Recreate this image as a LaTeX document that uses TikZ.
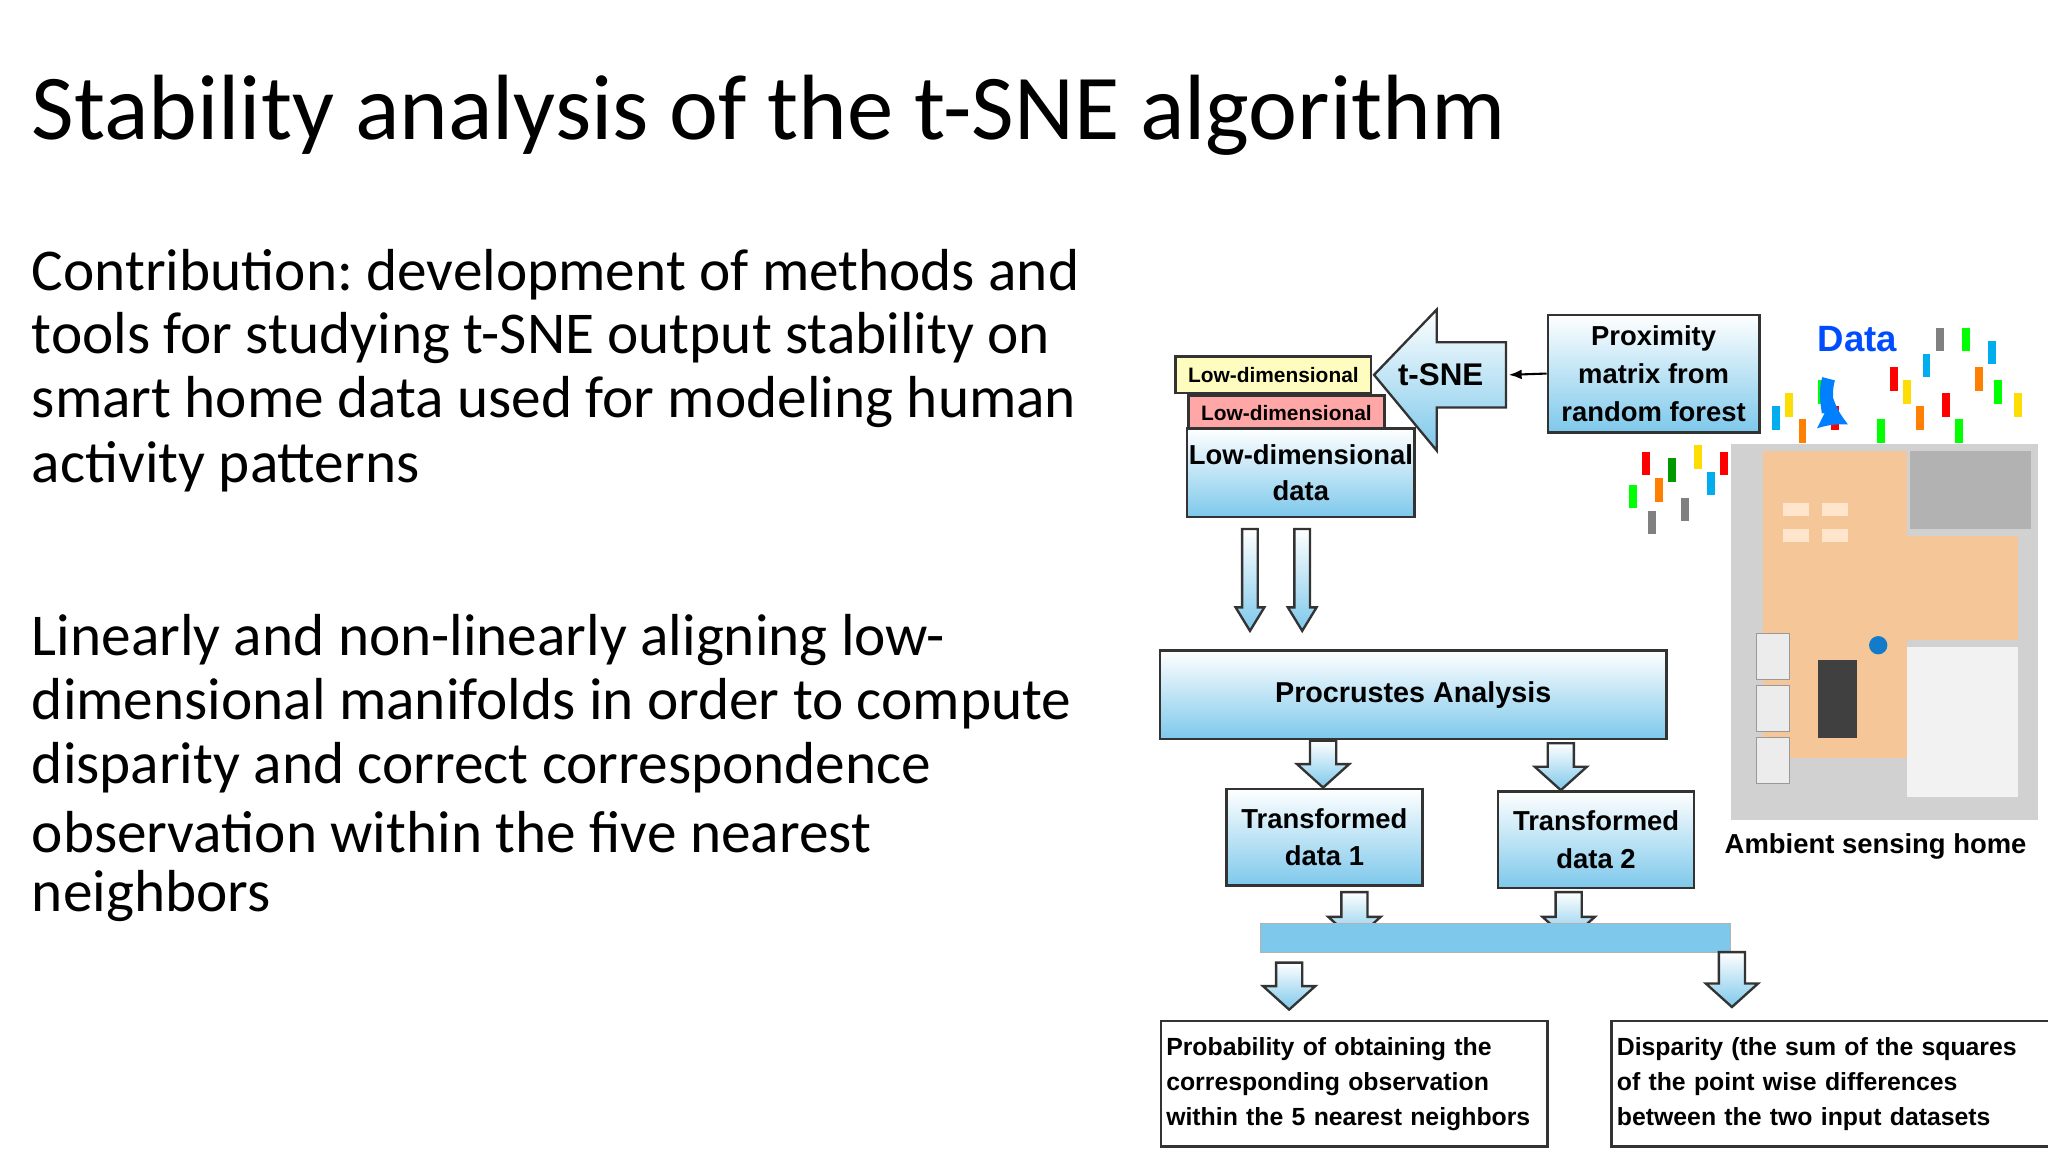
\documentclass[tikz,border=0pt]{standalone}
\usepackage{fontspec}
\setmainfont{Carlito}
\newfontfamily\arial{Liberation Sans}
\usetikzlibrary{shapes.geometric,arrows.meta}
\definecolor{sky}{RGB}{125,200,235}
\tikzset{
 bx/.style={draw=black!80, line width=0.9pt, top color=white, bottom color=sky, font=\arial\bfseries\fontsize{10.5}{12.5}\selectfont, align=center, inner sep=0pt},
 tb/.style={draw=black!80, line width=0.9pt, fill=white, font=\arial\bfseries\fontsize{9.5}{13.5}\selectfont, align=left, anchor=north west, inner sep=2pt},
 ar/.style={draw=black!80, line width=0.9pt, top color=white, bottom color=sky},
 body/.style={anchor=west, font=\fontsize{22.7}{24}\selectfont, inner sep=0pt}
}
% center x, top y, bottom y, shaft half width, head half width, head length
\newcommand\myDarr[6]{\path[ar] (#1-#4,#2) -- (#1+#4,#2) -- (#1+#4,#3-#6) -- (#1+#5,#3-#6) -- (#1,#3) -- (#1-#5,#3-#6) -- (#1-#4,#3-#6) -- cycle;}
\begin{document}
\frenchspacing
\begin{tikzpicture}[x=0.5pt,y=-0.5pt]
\useasboundingbox[fill=white] (0,0) rectangle (1568,882);
\node[anchor=west, font=\fontsize{35.5}{38}\selectfont, inner sep=0pt] (title) at (24,88) {Stability analysis of the t-SNE algorithm};
\node[body] (p1a) at (24,210) {Contribution: development of methods and};
\node[body] (p1b) at (24,259) {tools for studying t-SNE output stability on};
\node[body] (p1c) at (24,308) {smart home data used for modeling human};
\node[body] (p1d) at (24,357) {activity patterns};
\node[body] (p2a) at (24,490) {Linearly and non-linearly aligning low-};
\node[body] (p2b) at (24,539) {dimensional manifolds in order to compute};
\node[body] (p2c) at (24,588) {disparity and correct correspondence};
\node[body] (p2d) at (24,637) {observation within the five nearest};
\node[body] (p2e) at (24,686) {neighbors};

% house
\fill[black!18] (1325,340) rectangle (1560,628);
\fill[brown!40!orange!45] (1350,345) rectangle (1460,580);
\fill[brown!40!orange!45] (1460,410) rectangle (1545,490);
\fill[white!90!gray] (1460,495) rectangle (1545,610);
\fill[black!30] (1462,345) rectangle (1555,405);
\fill[black!75] (1392,505) rectangle (1422,565);
\foreach \yy in {485,525,565} \draw[black!40,fill=white!85!gray] (1345,\yy) rectangle (1370,\yy+35);
\foreach \xx/\yy in {1365/385,1395/385,1365/405,1395/405} \fill[white!80!orange] (\xx,\yy) rectangle (\xx+20,\yy+10);
\fill[cyan!60!blue] (1438,494) circle (7);
\node[font=\arial\bfseries\fontsize{10.5}{12}\selectfont] (home) at (1436,648) {Ambient sensing home};
% data dots
\foreach \xx/\yy/\c in {1260/355/red,1270/375/orange,1280/360/green!60!black,1300/350/yellow!80!orange,1310/370/cyan,1320/355/red,1250/380/green,1290/390/gray,1265/400/gray,1380/330/orange,1395/300/green,1405/320/red,1460/300/yellow!80!orange,1475/280/cyan,1490/310/red,1505/260/green,1515/290/orange,1525/270/cyan,1530/300/green,1545/310/yellow!80!orange,1470/320/orange,1440/330/green,1450/290/red,1500/330/green,1485/260/gray,1360/320/cyan,1370/310/yellow!80!orange}
 \fill[\c] (\xx-3,\yy-9) rectangle (\xx+3,\yy+9);
\node[font=\arial\bfseries\fontsize{14}{16}\selectfont, text=blue!70!cyan] (data) at (1422,260) {Data};
\draw[line width=5pt, blue!50!cyan, -{Latex[length=10pt,width=14pt]}] (1400,290) to[bend right=40] (1415,325);

% stacked low-dim boxes
\node[tb, fill=yellow!25, font=\arial\bfseries\fontsize{8}{9}\selectfont, minimum width=75pt, minimum height=14pt, inner sep=1pt] (ld1) at (899,272) {Low-dimensional};
\node[tb, fill=red!35, font=\arial\bfseries\fontsize{8}{9}\selectfont, minimum width=75pt, minimum height=13pt, inner sep=1pt] (ld2) at (909,302) {Low-dimensional};
\node[bx, minimum width=87pt, minimum height=34pt, font=\arial\bfseries\fontsize{10.5}{14}\selectfont] (ld3) at (996,362) {Low-dimensional\\data};

% t-SNE arrow
\path[ar] (1153,262) -- (1100,262) -- (1100,237) -- (1052,287) -- (1100,345) -- (1100,312) -- (1153,312) -- cycle;
\node[font=\arial\bfseries\fontsize{12}{14}\selectfont] (tsne) at (1103,287) {t-SNE};
\node[bx, minimum width=81pt, minimum height=45pt, font=\arial\bfseries\fontsize{10.5}{14.5}\selectfont] (prox) at (1266,286) {Proximity\\matrix from\\random forest};
\coordinate (tsneR) at (1155,287);
\draw[line width=0.8pt, -{Latex[length=5pt]}] (prox.west) -- (tsneR);

\myDarr{957}{405}{483}{6}{11}{18}
\myDarr{997}{405}{483}{6}{11}{18}
\node[bx, minimum width=194pt, minimum height=34pt, font=\arial\bfseries\fontsize{11}{13}\selectfont] (proc) at (1082,532) {Procrustes Analysis};
\myDarr{1013}{567}{603}{10}{20}{18}
\myDarr{1195}{569}{605}{10}{20}{18}
\node[bx, minimum width=75pt, minimum height=37pt, font=\arial\bfseries\fontsize{10.5}{14.5}\selectfont] (t1) at (1014,641) {Transformed\\data 1};
\node[bx, minimum width=75pt, minimum height=37pt, font=\arial\bfseries\fontsize{10.5}{14.5}\selectfont] (t2) at (1222,643) {Transformed\\data 2};
\myDarr{1037}{683}{720}{10}{20}{18}
\myDarr{1201}{683}{720}{10}{20}{18}
\path[draw=black!30, fill=sky] (965,707) rectangle (1325,729);
\myDarr{987}{737}{773}{10}{20}{18}
\myDarr{1326}{729}{771}{10}{20}{18}
\node[tb, text width=144pt, minimum height=48pt] (b1) at (888,781) {Probability of obtaining the\\corresponding observation\\within the 5 nearest neighbors};
\node[tb, text width=166pt, minimum height=48pt] (b2) at (1233,781) {Disparity (the sum of the squares\\of the point wise differences\\between the two input datasets};
\end{tikzpicture}
\end{document}
